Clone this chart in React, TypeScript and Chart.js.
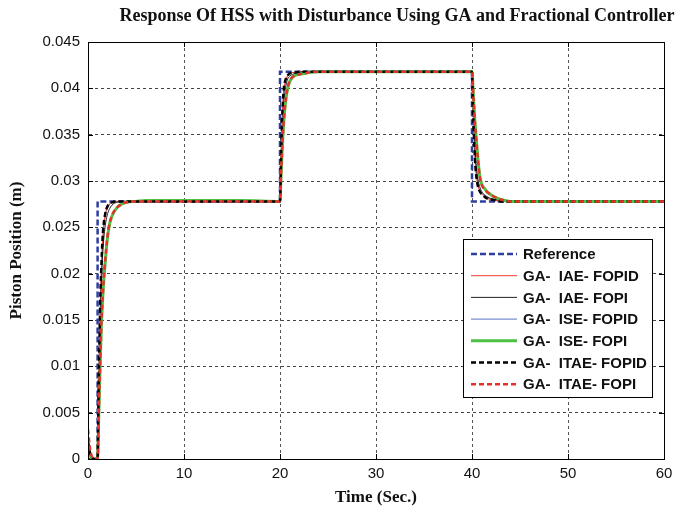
import React, { useEffect, useRef } from "react";
import { Chart, registerables } from "chart.js";

Chart.register(...registerables);

const chartTitle = "Response Of HSS with Disturbance Using GA and Fractional Controller";
const xAxisTitle = "Time (Sec.)";
const yAxisTitle = "Piston Position (m)";

const xTickValues = [0, 10, 20, 30, 40, 50, 60];
const xTickLabels = ["0", "10", "20", "30", "40", "50", "60"];
const yTickValues = [0, 0.005, 0.01, 0.015, 0.02, 0.025, 0.03, 0.035, 0.04, 0.045];
const yTickLabels = ["0", "0.005", "0.01", "0.015", "0.02", "0.025", "0.03", "0.035", "0.04", "0.045"];

const seriesLabels = [
  "Reference",
  "GA-  IAE- FOPID",
  "GA-  IAE- FOPI",
  "GA-  ISE- FOPID",
  "GA-  ISE- FOPI",
  "GA-  ITAE- FOPID",
  "GA-  ITAE- FOPI",
];

// reference step input
const refTime = [0, 1, 1, 20, 20, 40, 40, 60];
const refValue = [0, 0, 0.0278, 0.0278, 0.0418, 0.0418, 0.0278, 0.0278];

// common sample times for the responses
const timeSec = [
  0, 0.2, 0.4, 0.6, 0.8, 1.0, 1.1, 1.2, 1.3, 1.4, 1.5, 1.6, 1.8, 2.0, 2.2, 2.5, 3.0, 3.5, 4.0, 5.0, 6.0, 8.0, 12, 16, 20,
  20.1, 20.2, 20.3, 20.4, 20.6, 20.8, 21, 21.3, 21.6, 22, 22.5, 23, 24, 26, 30, 35, 40,
  40.1, 40.2, 40.3, 40.4, 40.6, 40.8, 41, 41.3, 41.6, 42, 42.5, 43, 44, 46, 50, 55, 60,
];

const iaeFopid = [
  0.0025, 0.0009, 0.0002, 0, 0, 0, 0.0068, 0.0128, 0.0178, 0.0208, 0.0232, 0.0248, 0.0264, 0.0271, 0.0275, 0.0277, 0.0278, 0.0278, 0.0278, 0.0278, 0.0278, 0.0278, 0.0278, 0.0278, 0.0278,
  0.0318, 0.0358, 0.0383, 0.0398, 0.0409, 0.0414, 0.0416, 0.0417, 0.0417, 0.0418, 0.0418, 0.0418, 0.0418, 0.0418, 0.0418, 0.0418, 0.0418,
  0.0382, 0.0352, 0.0327, 0.0311, 0.0296, 0.0289, 0.0286, 0.0283, 0.0281, 0.028, 0.0279, 0.0278, 0.0278, 0.0278, 0.0278, 0.0278, 0.0278,
];

const iaeFopi = [
  0.0018, 0.0006, 0.0001, 0, 0, 0, 0.005, 0.011, 0.016, 0.019, 0.0215, 0.0232, 0.0252, 0.0263, 0.0269, 0.0274, 0.0277, 0.0278, 0.0278, 0.0278, 0.0278, 0.0278, 0.0278, 0.0278, 0.0278,
  0.031, 0.0345, 0.037, 0.0385, 0.0402, 0.041, 0.0413, 0.0415, 0.0416, 0.0417, 0.0418, 0.0418, 0.0418, 0.0418, 0.0418, 0.0418, 0.0418,
  0.0388, 0.036, 0.0338, 0.0322, 0.0303, 0.0294, 0.0289, 0.0285, 0.0283, 0.0281, 0.028, 0.0279, 0.0278, 0.0278, 0.0278, 0.0278, 0.0278,
];

const iseFopid = [
  0.0012, 0.0004, 0, 0, 0, 0, 0.0064, 0.0122, 0.0172, 0.0204, 0.0228, 0.0245, 0.0262, 0.027, 0.0274, 0.0277, 0.0278, 0.0278, 0.0278, 0.0278, 0.0278, 0.0278, 0.0278, 0.0278, 0.0278,
  0.0314, 0.0354, 0.038, 0.0396, 0.0408, 0.0413, 0.0416, 0.0417, 0.0417, 0.0418, 0.0418, 0.0418, 0.0418, 0.0418, 0.0418, 0.0418, 0.0418,
  0.0384, 0.0355, 0.033, 0.0314, 0.0298, 0.029, 0.0287, 0.0284, 0.0282, 0.028, 0.0279, 0.0278, 0.0278, 0.0278, 0.0278, 0.0278, 0.0278,
];

const iseFopi = [
  0.0015, 0.0005, 0.0001, 0, 0, 0, 0.0038, 0.0078, 0.0113, 0.0146, 0.0167, 0.0186, 0.0213, 0.0236, 0.0251, 0.0262, 0.0271, 0.0275, 0.0277, 0.0278, 0.0279, 0.0279, 0.0279, 0.0279, 0.0278,
  0.0304, 0.0328, 0.0348, 0.0365, 0.0387, 0.04, 0.0407, 0.0412, 0.0414, 0.0415, 0.0416, 0.0417, 0.0418, 0.0418, 0.0418, 0.0418, 0.0418,
  0.0401, 0.0382, 0.0365, 0.0351, 0.0326, 0.0306, 0.0297, 0.0292, 0.0288, 0.0285, 0.0282, 0.028, 0.0278, 0.0278, 0.0278, 0.0278, 0.0278,
];

const itaeFopid = [
  0.0018, 0.0007, 0.0002, 0, 0, 0, 0.007, 0.013, 0.018, 0.021, 0.0235, 0.025, 0.0265, 0.0272, 0.0275, 0.0277, 0.0278, 0.0278, 0.0278, 0.0278, 0.0278, 0.0278, 0.0278, 0.0278, 0.0278,
  0.032, 0.036, 0.0385, 0.04, 0.041, 0.0414, 0.0416, 0.0417, 0.0417, 0.0418, 0.0418, 0.0418, 0.0418, 0.0418, 0.0418, 0.0418, 0.0418,
  0.038, 0.035, 0.0325, 0.031, 0.0295, 0.0289, 0.0286, 0.0283, 0.0281, 0.028, 0.0279, 0.0278, 0.0278, 0.0278, 0.0278, 0.0278, 0.0278,
];

const itaeFopi = [
  0.0032, 0.0012, 0.0003, 0, 0, 0, 0.004, 0.008, 0.0115, 0.0148, 0.0168, 0.0188, 0.0215, 0.0238, 0.0252, 0.0263, 0.0271, 0.0275, 0.0277, 0.0278, 0.0278, 0.0278, 0.0278, 0.0278, 0.0278,
  0.0305, 0.033, 0.035, 0.0366, 0.0388, 0.0401, 0.0408, 0.0412, 0.0414, 0.0415, 0.0416, 0.0417, 0.0418, 0.0418, 0.0418, 0.0418, 0.0418,
  0.04, 0.0381, 0.0363, 0.035, 0.0325, 0.0305, 0.0296, 0.0291, 0.0288, 0.0285, 0.0282, 0.028, 0.0278, 0.0278, 0.0278, 0.0278, 0.0278,
];

const toPoints = (xs: number[], ys: number[]) => xs.map((x, i) => ({ x, y: ys[i] }));

const SANS = "'Liberation Sans', Arial, Helvetica, sans-serif";
const SERIF = "'Liberation Serif', 'Times New Roman', serif";

const framePlugin = {
  id: "frame",
  afterDatasetsDraw(chart: any) {
    const { ctx, chartArea: a, scales } = chart;
    ctx.save();
    ctx.strokeStyle = "#000";
    ctx.lineWidth = 1;
    ctx.setLineDash([]);
    ctx.beginPath();
    const tl = 5;
    for (const v of yTickValues) {
      const y = Math.round(scales.y.getPixelForValue(v)) + 0.5;
      ctx.moveTo(a.left, y);
      ctx.lineTo(a.left + tl, y);
      ctx.moveTo(a.right, y);
      ctx.lineTo(a.right - tl, y);
    }
    for (const v of xTickValues) {
      const x = Math.round(scales.x.getPixelForValue(v)) + 0.5;
      ctx.moveTo(x, a.bottom);
      ctx.lineTo(x, a.bottom - tl);
      ctx.moveTo(x, a.top);
      ctx.lineTo(x, a.top + tl);
    }
    ctx.stroke();
    ctx.strokeRect(Math.round(a.left) + 0.5, Math.round(a.top) + 0.5, Math.round(a.right - a.left), Math.round(a.bottom - a.top));
    ctx.restore();
  },
};

const legendPlugin = {
  id: "boxLegend",
  afterDraw(chart: any) {
    const { ctx } = chart;
    const left = 463, top = 239, width = 189, height = 158;
    ctx.save();
    ctx.fillStyle = "#fff";
    ctx.fillRect(left, top, width, height);
    ctx.strokeStyle = "#000";
    ctx.lineWidth = 1;
    ctx.setLineDash([]);
    ctx.strokeRect(left + 0.5, top + 0.5, width, height);
    ctx.font = `bold 15px ${SANS}`;
    ctx.textBaseline = "middle";
    ctx.textAlign = "left";
    chart.data.datasets.forEach((ds: any, i: number) => {
      const y = top + 15 + i * 21.7;
      ctx.strokeStyle = ds.borderColor;
      ctx.lineWidth = ds.borderWidth;
      ctx.setLineDash(ds.borderDash || []);
      ctx.beginPath();
      ctx.moveTo(left + 8, y);
      ctx.lineTo(left + 54, y);
      ctx.stroke();
      ctx.setLineDash([]);
      ctx.fillStyle = "#111";
      ctx.fillText(ds.label, left + 60, y + 1);
    });
    ctx.restore();
  },
};

const titlePlugin = {
  id: "topTitle",
  afterDraw(chart: any) {
    const { ctx } = chart;
    ctx.save();
    ctx.font = `bold 18px ${SERIF}`;
    ctx.fillStyle = "#111";
    ctx.textAlign = "center";
    ctx.textBaseline = "middle";
    ctx.fillText(chartTitle, 397, 16);
    ctx.restore();
  },
};

export default function App() {
  const canvasRef = useRef<HTMLCanvasElement | null>(null);

  useEffect(() => {
    const canvas = canvasRef.current;
    if (!canvas) return;
    const common = { pointRadius: 0, fill: false, tension: 0 };
    const chart = new Chart(canvas, {
      type: "line",
      data: {
        datasets: [
          { ...common, label: seriesLabels[0], data: toPoints(refTime, refValue), borderColor: "#2f3f9f", borderWidth: 2.5, borderDash: [6, 3], order: 6 },
          { ...common, label: seriesLabels[1], data: toPoints(timeSec, iaeFopid), borderColor: "#ee3a30", borderWidth: 1, cubicInterpolationMode: "monotone", order: 4 },
          { ...common, label: seriesLabels[2], data: toPoints(timeSec, iaeFopi), borderColor: "#222222", borderWidth: 1, cubicInterpolationMode: "monotone", order: 3 },
          { ...common, label: seriesLabels[3], data: toPoints(timeSec, iseFopid), borderColor: "#5a72c4", borderWidth: 1, cubicInterpolationMode: "monotone", order: 5 },
          { ...common, label: seriesLabels[4], data: toPoints(timeSec, iseFopi), borderColor: "#4cc244", borderWidth: 3, cubicInterpolationMode: "monotone", order: 2 },
          { ...common, label: seriesLabels[5], data: toPoints(timeSec, itaeFopid), borderColor: "#000000", borderWidth: 2.5, borderDash: [5, 3], cubicInterpolationMode: "monotone", order: 1 },
          { ...common, label: seriesLabels[6], data: toPoints(timeSec, itaeFopi), borderColor: "#e8302a", borderWidth: 2.5, borderDash: [5, 3], cubicInterpolationMode: "monotone", order: 0 },
        ],
      },
      options: {
        animation: false,
        responsive: false,
        events: [],
        layout: { padding: { top: 42, right: 16, left: 0, bottom: 0 } },
        plugins: {
          legend: { display: false },
          title: { display: false },
          tooltip: { enabled: false },
        },
        scales: {
          x: {
            type: "linear",
            min: 0,
            max: 60,
            afterFit: (s: any) => { s.height = 55; },
            afterBuildTicks: (s: any) => { s.ticks = xTickValues.map((v) => ({ value: v })); },
            ticks: {
              autoSkip: false,
              maxRotation: 0,
              padding: 6,
              color: "#111",
              font: { family: SANS, size: 15 },
              callback: (_v: any, i: number) => xTickLabels[i],
            },
            grid: { color: "#555", lineWidth: 1, drawTicks: false },
            border: { display: true, color: "#000", dash: [3, 3] },
            title: { display: true, text: xAxisTitle, color: "#111", font: { family: SERIF, size: 17, weight: "bold" }, padding: { top: 0, bottom: 6 } },
          },
          y: {
            type: "linear",
            min: 0,
            max: 0.045,
            afterFit: (s: any) => { s.width = 88; },
            afterBuildTicks: (s: any) => { s.ticks = yTickValues.map((v) => ({ value: v })); },
            ticks: {
              autoSkip: false,
              padding: 8,
              color: "#111",
              font: { family: SANS, size: 15 },
              callback: (_v: any, i: number) => yTickLabels[i],
            },
            grid: { color: "#444", lineWidth: 1, drawTicks: false },
            border: { display: true, color: "#000", dash: [3, 3] },
            title: { display: true, text: yAxisTitle, color: "#111", font: { family: SERIF, size: 17, weight: "bold" }, padding: { top: 6, bottom: 0 } },
          },
        },
      },
      plugins: [framePlugin, legendPlugin, titlePlugin],
    } as any);
    return () => chart.destroy();
  }, []);

  return (
    <div style={{ position: "absolute", left: 0, top: 0, width: 680, height: 514, background: "#fff" }}>
      <canvas ref={canvasRef} width={680} height={514} style={{ display: "block" }} />
    </div>
  );
}
